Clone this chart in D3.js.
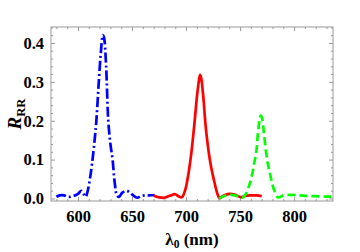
<!DOCTYPE html>
<html>
<head>
<meta charset="utf-8">
<script src="https://d3js.org/d3.v7.min.js"></script>
<style>
body { margin: 0; background: #fff; }
svg text { font-family: "Liberation Serif", "DejaVu Serif", serif; font-weight: bold; }
.tick line { stroke: #999; }
.domain { stroke: none; }
</style>
</head>
<body>
<div id="chart"></div>
<script>
// wavelength (nm) and reflectance
const blueLam = [580, 583, 587, 591, 595, 600, 603, 605, 607, 609, 611, 613, 615, 617, 619, 621, 623, 624, 626, 628, 630, 632, 634, 636, 638, 641, 645, 648, 652, 655, 658, 662, 666, 671];
const blueR   = [0.004, 0.008, 0.008, 0.004, 0.006, 0.012, 0.02, 0.012, 0.004, 0.02, 0.05, 0.09, 0.14, 0.2, 0.29, 0.37, 0.42, 0.415, 0.34, 0.2, 0.14, 0.1, 0.04, 0.008, 0.004, 0.015, 0.02, 0.015, 0.006, 0.002, 0.006, 0.008, 0.008, 0.009];

const redLam = [670, 675, 680, 685, 690, 693, 696, 699, 702, 705, 708, 710, 712, 713, 714, 716, 718, 720, 722, 724, 726, 728, 730, 731, 735, 740, 745, 750, 752, 755, 760, 765, 770];
const redR   = [0.007, 0.003, 0.002, 0.007, 0.011, 0.006, 0.003, 0.02, 0.06, 0.12, 0.2, 0.26, 0.305, 0.318, 0.31, 0.26, 0.19, 0.14, 0.1, 0.07, 0.045, 0.022, 0.005, 0.001, 0.008, 0.012, 0.01, 0.004, 0.004, 0.007, 0.008, 0.008, 0.006];

const greenLam = [730.5, 735, 740, 745, 750, 752, 755, 758, 761, 763, 765, 767, 769, 770, 772, 774, 776, 778, 780, 782, 785, 788, 790, 800, 810, 820, 830, 835];
const greenR   = [0.0, 0.006, 0.01, 0.008, 0.004, 0.002, 0.01, 0.03, 0.06, 0.09, 0.12, 0.18, 0.213, 0.21, 0.17, 0.12, 0.085, 0.06, 0.035, 0.018, 0.003, 0.005, 0.008, 0.009, 0.007, 0.006, 0.005, 0.005];

const xTicks = [600, 650, 700, 750, 800];
const yTicks = [0.0, 0.1, 0.2, 0.3, 0.4];

const w = 360, h = 252;
const m = { left: 51, top: 27, right: 27, bottom: 51 };

const svg = d3.select('#chart').append('svg')
    .attr('width', w)
    .attr('height', h);

const x = d3.scaleLinear().domain([575, 836]).range([m.left, w - m.right]);
const y = d3.scaleLinear().domain([-0.0064, 0.441]).range([h - m.bottom, m.top]);

const xMinor = d3.range(580, 836, 10).filter(v => v % 50 != 0);
const yMinor = d3.range(0, 0.441, 0.02).filter((v, i) => i % 5 != 0);

// ticks point inwards on all four sides
function addAxis(axis, tr) {
    svg.append('g').attr('transform', tr).call(axis);
}
const X0 = h - m.bottom, X1 = m.top, Y0 = m.left, Y1 = w - m.right;
addAxis(d3.axisBottom(x).tickValues(xTicks).tickSize(-4).tickPadding(9).tickFormat(d3.format('d')), `translate(0,${X0})`);
addAxis(d3.axisBottom(x).tickValues(xMinor).tickSize(-2).tickFormat(''), `translate(0,${X0})`);
addAxis(d3.axisTop(x).tickValues(xTicks).tickSize(-4).tickFormat(''), `translate(0,${X1})`);
addAxis(d3.axisTop(x).tickValues(xMinor).tickSize(-2).tickFormat(''), `translate(0,${X1})`);
addAxis(d3.axisLeft(y).tickValues(yTicks).tickSize(-4).tickPadding(7).tickFormat(d3.format('.1f')), `translate(${Y0},0)`);
addAxis(d3.axisLeft(y).tickValues(yMinor).tickSize(-2).tickFormat(''), `translate(${Y0},0)`);
addAxis(d3.axisRight(y).tickValues(yTicks).tickSize(-4).tickFormat(''), `translate(${Y1},0)`);
addAxis(d3.axisRight(y).tickValues(yMinor).tickSize(-2).tickFormat(''), `translate(${Y1},0)`);

svg.selectAll('.tick text')
    .style('font-size', '16.5px')
    .attr('fill', '#000');

svg.append('rect')
    .attr('x', Y0).attr('y', X1)
    .attr('width', Y1 - Y0).attr('height', X0 - X1)
    .attr('fill', 'none')
    .attr('stroke', '#999')
    .attr('stroke-width', 1);

const line = d3.line()
    .x(d => x(d[0]))
    .y(d => y(d[1]))
    .curve(d3.curveCatmullRom);

const series = [
    { lam: blueLam, r: blueR, color: '#0000ff', dash: '10,3,2,3' },
    { lam: redLam, r: redR, color: '#ff0000', dash: null },
    { lam: greenLam, r: greenR, color: '#00ff00', dash: '8,4' }
];

series.forEach(s => {
    svg.append('path')
        .datum(d3.zip(s.lam, s.r))
        .attr('d', line)
        .attr('fill', 'none')
        .attr('stroke', s.color)
        .attr('stroke-width', 2.7)
        .attr('stroke-dasharray', s.dash);
});

// axis titles
const yl = svg.append('text')
    .attr('transform', `translate(21,${(X0 + X1) / 2}) rotate(-90)`)
    .attr('text-anchor', 'middle')
    .style('font-size', '19px');
yl.append('tspan').style('font-style', 'italic').text('R');
yl.append('tspan').attr('dy', 4).style('font-size', '12.5px').text('RR');

const xl = svg.append('text')
    .attr('x', (Y0 + Y1) / 2)
    .attr('y', 245)
    .attr('text-anchor', 'middle')
    .style('font-size', '17px');
xl.append('tspan').text('λ');
xl.append('tspan').attr('dy', 3).style('font-size', '11.5px').text('0');
xl.append('tspan').attr('dy', -3).text(' (nm)');
</script>
</body>
</html>
